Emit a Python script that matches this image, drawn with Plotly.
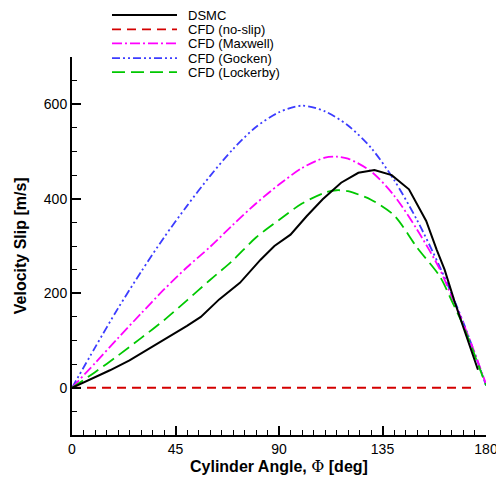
import plotly.graph_objects as go

# ---- data ----
dsmc_x = [0, 16.5, 25, 38, 50, 56, 64, 73, 82, 88, 95, 102, 109, 117, 124.5, 131.5, 139, 146.5, 154, 158.5, 162, 166.5, 176.5]
dsmc_y = [0, 37, 58, 95, 131, 150, 187, 222, 271, 300, 324, 363, 399, 434, 455, 461, 450, 420, 353, 293, 250, 180, 38]

noslip_x = [0, 176]
noslip_y = [0, 0]

cfd_x = [0, 10, 20, 30, 40, 50, 60, 70, 80, 90, 100, 110, 120, 130, 140, 150, 160, 170, 180]
gocken_y = [0, 85, 168, 245, 318, 385, 448, 505, 552, 583, 597, 585, 555, 508, 440, 355, 255, 140, 5]

max_x = [0, 10, 20, 30, 40, 50, 60, 70, 80, 90, 100, 110, 115, 120, 130, 140, 150, 160, 165, 170, 175, 180]
maxwell_y = [0, 52, 105, 157, 208, 255, 298, 345, 390, 430, 465, 487, 489, 485, 458, 407, 335, 250, 194, 138, 75, 8]

lock_x = [0, 10, 20, 30, 40, 50, 60, 70, 80, 90, 100, 110, 115, 120, 130, 140, 150, 160, 165, 170, 175, 180]
lockerby_y = [0, 33, 68, 105, 143, 185, 228, 270, 318, 355, 390, 413, 418, 416, 398, 365, 297, 235, 185, 133, 70, 5]

series_names = ["DSMC", "CFD (no-slip)", "CFD (Maxwell)", "CFD (Gocken)", "CFD (Lockerby)"]
x_ticks = [0, 45, 90, 135, 180]
y_ticks = [0, 200, 400, 600]

# ---- styles ----
colors = ["#000000", "#d40000", "#ff00ff", "#3c3cff", "#00c800"]
dashes = ["solid", "9px,6px", "10px,3px,2px,3px", "8px,3px,2px,3px,2px,3px", "13px,6px"]
widths = [2, 1.8, 1.8, 1.8, 1.8]
shapes = ["linear", "linear", "spline", "spline", "spline"]

xs = [dsmc_x, noslip_x, max_x, cfd_x, lock_x]
ys = [dsmc_y, noslip_y, maxwell_y, gocken_y, lockerby_y]

fig = go.Figure()
for i in [1, 3, 2, 4, 0]:
    fig.add_trace(go.Scatter(x=xs[i], y=ys[i], mode="lines", name=series_names[i],
                             line=dict(color=colors[i], dash=dashes[i], width=widths[i],
                                       shape=shapes[i], smoothing=0.8),
                             showlegend=False))

# manual legend (Tecplot style, tightly spaced)
x0, x1, xt = 0.0966, 0.2536, 0.278
rows = [1.111, 1.073, 1.036, 0.997, 0.960]
for i, name in enumerate(series_names):
    fig.add_shape(type="line", xref="paper", yref="paper", x0=x0, x1=x1, y0=rows[i], y1=rows[i],
                  line=dict(color=colors[i], dash=dashes[i], width=widths[i]))
    fig.add_annotation(xref="paper", yref="paper", x=xt, y=rows[i], text=name, showarrow=False,
                       xanchor="left", yanchor="middle", font=dict(size=13, color="black"),
                       borderpad=0)

axis_common = dict(showline=True, linecolor="black", linewidth=2, mirror=False,
                   ticks="inside", ticklen=9, tickwidth=1.5, tickcolor="black",
                   showgrid=False, zeroline=False, automargin=False,
                   tickfont=dict(family="Liberation Sans, Arial", size=14, color="black"))

fig.update_xaxes(range=[0, 180], tickvals=x_ticks,
                 minor=dict(ticks="inside", ticklen=5, tickwidth=1, tickcolor="black", dtick=5, tick0=0),
                 **axis_common)
fig.update_yaxes(range=[-100, 700], tickvals=y_ticks,
                 minor=dict(ticks="inside", ticklen=5, tickwidth=1, tickcolor="black", dtick=50, tick0=0),
                 **axis_common)

# axis titles
fig.add_annotation(xref="paper", yref="paper", x=0.5, y=-0.052, yanchor="top", showarrow=False,
                   text="<b>Cylinder Angle, <span style='font-family:DejaVu Serif;font-weight:normal'>Φ</span> [deg]</b>",
                   font=dict(family="Liberation Sans, Arial", size=16, color="black"))
fig.add_annotation(xref="paper", yref="paper", x=-0.125, y=0.5, xanchor="center", showarrow=False,
                   textangle=-90, text="<b>Velocity Slip [m/s]</b>",
                   font=dict(family="Liberation Sans, Arial", size=16, color="black"))

fig.update_layout(width=504, height=478,
                  margin=dict(l=64, r=26, t=49, b=51),
                  plot_bgcolor="white", paper_bgcolor="white",
                  font=dict(family="Liberation Sans, Arial", color="black"),
                  showlegend=False)

fig.write_html("out.html")
